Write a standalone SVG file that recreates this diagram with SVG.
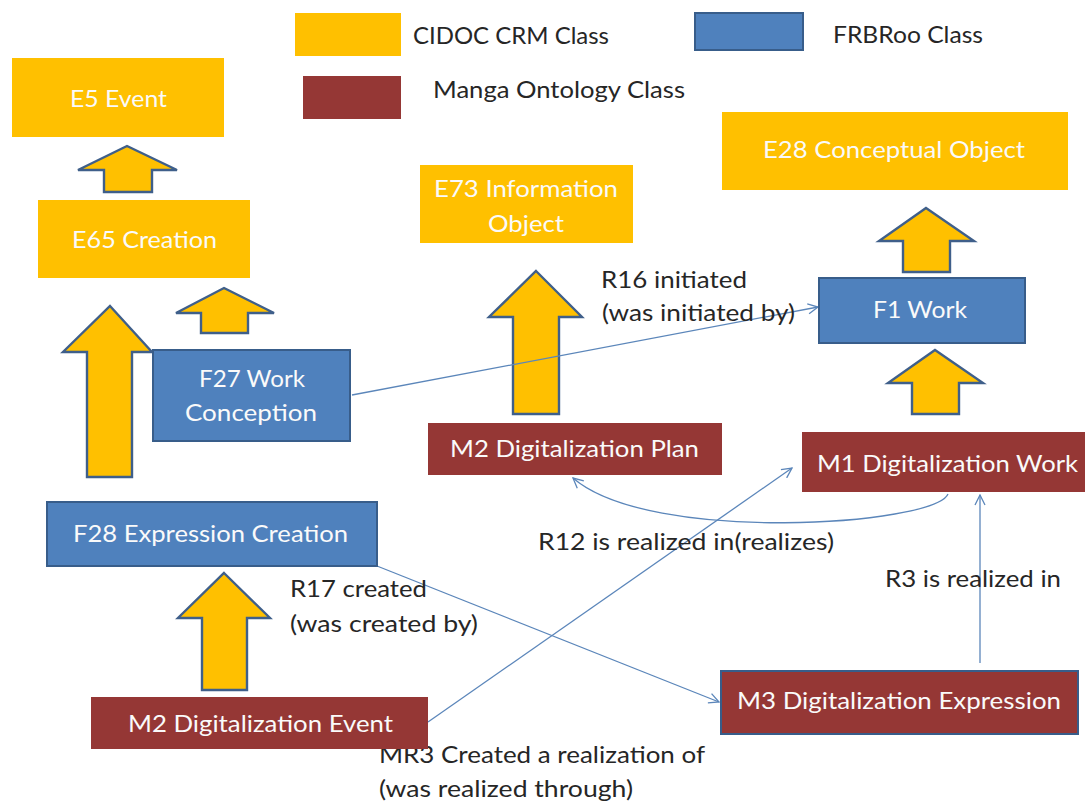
<svg xmlns="http://www.w3.org/2000/svg" width="1088" height="802" viewBox="0 0 1088 802">
<defs>
<style>
.y{fill:#FFC000}
.r{fill:#953735}
.b{fill:#4F81BD;stroke:#385D8A;stroke-width:2}
.rb{fill:#953735;stroke:#385D8A;stroke-width:2}
.wt{font-family:Lato,"Open Sans","Liberation Sans",sans-serif;font-size:24px;fill:#FAFAFA}
.lt{font-family:Lato,"Open Sans","Liberation Sans",sans-serif;font-size:24px;fill:#262626}
.ua{fill:#FFC000;stroke:#3F5F8A;stroke-width:2.4;stroke-linejoin:miter}
.cn{fill:none;stroke:#5B86BA;stroke-width:1.3}
</style>
<marker id="ah" viewBox="0 0 12 12" refX="11" refY="6" markerWidth="12" markerHeight="12" markerUnits="userSpaceOnUse" orient="auto">
<path d="M1,1 L11,6 L1,11" fill="none" stroke="#5B86BA" stroke-width="1.3"/>
</marker>
</defs>
<rect width="1088" height="802" fill="#FFFFFF"/>

<g id="legend">
<rect class="y" x="295" y="13" width="106" height="43"/>
<text class="lt" x="413" y="44" textLength="196" lengthAdjust="spacingAndGlyphs">CIDOC CRM Class</text>
<rect class="r" x="303" y="76" width="98" height="43"/>
<text class="lt" x="433" y="98" textLength="252" lengthAdjust="spacingAndGlyphs">Manga Ontology Class</text>
<rect class="b" x="695" y="13" width="108" height="37"/>
<text class="lt" x="833" y="43" textLength="150" lengthAdjust="spacingAndGlyphs">FRBRoo Class</text>
</g>

<g id="inheritance-arrows">
<polygon class="ua" points="127,146 177,170 152,170 152,192 104,192 104,170 78,170"/>
<polygon class="ua" points="224,288 274,313 248,313 248,333 201,333 201,313 176,313"/>
<polygon class="ua" points="110,306 152,352 132,352 132,477 87,477 87,352 63,352"/>
<polygon class="ua" points="536,271 582,317 559,317 559,414 513,414 513,317 489,317"/>
<polygon class="ua" points="926,208 974,241 950,241 950,272 903,272 903,241 879,241"/>
<polygon class="ua" points="935,350 983,383 959,383 959,414 912,414 912,383 888,383"/>
<polygon class="ua" points="224,573 270,618 247,618 247,690 202,690 202,618 178,618"/>
</g>

<g id="connectors">
<line class="cn" x1="352" y1="395" x2="818" y2="307" marker-end="url(#ah)"/>
<line class="cn" x1="377" y1="566" x2="719" y2="702" marker-end="url(#ah)"/>
<line class="cn" x1="428" y1="722" x2="792" y2="468" marker-end="url(#ah)"/>
<path class="cn" d="M948,494 C935,525 650,545 573,478" marker-end="url(#ah)"/>
<line class="cn" x1="980" y1="663" x2="980" y2="495" marker-end="url(#ah)"/>
<text class="lt" x="601" y="288" textLength="146" lengthAdjust="spacingAndGlyphs">R16 initiated</text>
<text class="lt" x="602" y="321" textLength="193" lengthAdjust="spacingAndGlyphs">(was initiated by)</text>
<text class="lt" x="538" y="550" textLength="296" lengthAdjust="spacingAndGlyphs">R12 is realized in(realizes)</text>
<text class="lt" x="885" y="587" textLength="176" lengthAdjust="spacingAndGlyphs">R3 is realized in</text>
<text class="lt" x="290" y="597" textLength="137" lengthAdjust="spacingAndGlyphs">R17 created</text>
<text class="lt" x="290" y="632" textLength="188" lengthAdjust="spacingAndGlyphs">(was created by)</text>
<text class="lt" x="379" y="763" textLength="326" lengthAdjust="spacingAndGlyphs">MR3 Created a realization of</text>
<text class="lt" x="379" y="797" textLength="254" lengthAdjust="spacingAndGlyphs">(was realized through)</text>
</g>

<g id="E5">
<rect class="y" x="12" y="58" width="212" height="79"/>
<text class="wt" x="70" y="107" textLength="97" lengthAdjust="spacingAndGlyphs">E5 Event</text>
</g>
<g id="E65">
<rect class="y" x="38" y="200" width="212" height="78"/>
<text class="wt" x="72" y="248" textLength="145" lengthAdjust="spacingAndGlyphs">E65 Creation</text>
</g>
<g id="E73">
<rect class="y" x="420" y="165" width="213" height="78"/>
<text class="wt" x="434" y="197" textLength="184" lengthAdjust="spacingAndGlyphs">E73 Information</text>
<text class="wt" x="488" y="232" textLength="76" lengthAdjust="spacingAndGlyphs">Object</text>
</g>
<g id="E28">
<rect class="y" x="722" y="112" width="346" height="78"/>
<text class="wt" x="763" y="158" textLength="262" lengthAdjust="spacingAndGlyphs">E28 Conceptual Object</text>
</g>
<g id="F1">
<rect class="b" x="819" y="278" width="206" height="65"/>
<text class="wt" x="873" y="318" textLength="94" lengthAdjust="spacingAndGlyphs">F1 Work</text>
</g>
<g id="F27">
<rect class="b" x="153" y="350" width="197" height="91"/>
<text class="wt" x="199" y="387" textLength="106" lengthAdjust="spacingAndGlyphs">F27 Work</text>
<text class="wt" x="185" y="421" textLength="132" lengthAdjust="spacingAndGlyphs">Conception</text>
</g>
<g id="F28">
<rect class="b" x="47" y="502" width="330" height="64"/>
<text class="wt" x="73" y="542" textLength="275" lengthAdjust="spacingAndGlyphs">F28 Expression Creation</text>
</g>
<g id="M2plan">
<rect class="r" x="428" y="423" width="294" height="52"/>
<text class="wt" x="450" y="457" textLength="249" lengthAdjust="spacingAndGlyphs">M2 Digitalization Plan</text>
</g>
<g id="M1">
<rect class="r" x="802" y="432" width="283" height="60"/>
<text class="wt" x="817" y="472" textLength="261" lengthAdjust="spacingAndGlyphs">M1 Digitalization Work</text>
</g>
<g id="M2event">
<rect class="r" x="91" y="697" width="337" height="52"/>
<text class="wt" x="128" y="732" textLength="265" lengthAdjust="spacingAndGlyphs">M2 Digitalization Event</text>
</g>
<g id="M3">
<rect class="rb" x="721" y="671" width="357" height="63"/>
<text class="wt" x="737" y="709" textLength="324" lengthAdjust="spacingAndGlyphs">M3 Digitalization Expression</text>
</g>
</svg>
